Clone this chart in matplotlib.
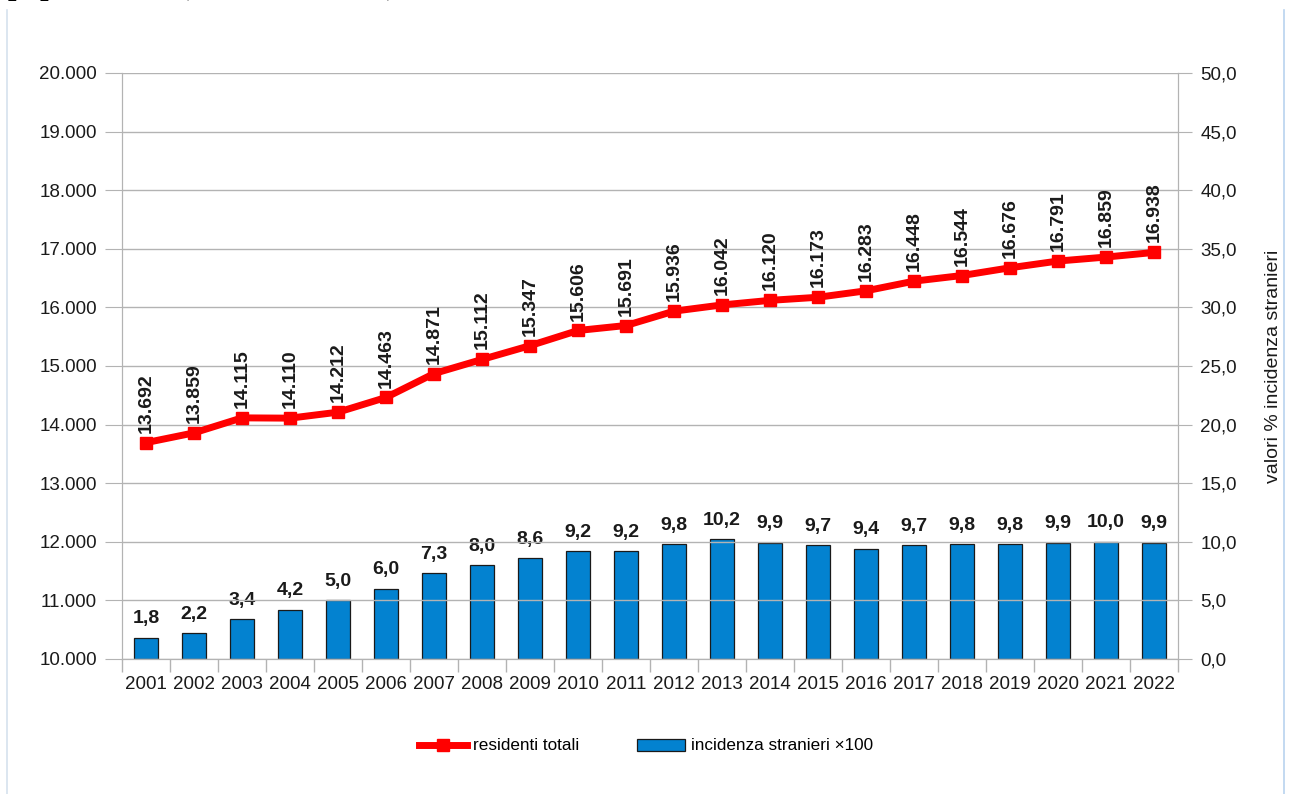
import matplotlib
matplotlib.use("Agg")
import matplotlib.pyplot as plt
from matplotlib.lines import Line2D
from matplotlib.patches import Patch
from matplotlib.ticker import FixedLocator

plt.rcParams['font.family'] = ['Liberation Sans', 'DejaVu Sans']

years = ['2001', '2002', '2003', '2004', '2005', '2006', '2007', '2008', '2009', '2010', '2011',
         '2012', '2013', '2014', '2015', '2016', '2017', '2018', '2019', '2020', '2021', '2022']
residenti = [13692, 13859, 14115, 14110, 14212, 14463, 14871, 15112, 15347, 15606, 15691,
             15936, 16042, 16120, 16173, 16283, 16448, 16544, 16676, 16791, 16859, 16938]
incidenza = [1.8, 2.2, 3.4, 4.2, 5.0, 6.0, 7.3, 8.0, 8.6, 9.2, 9.2,
             9.8, 10.2, 9.9, 9.7, 9.4, 9.7, 9.8, 9.8, 9.9, 10.0, 9.9]
left_ticks = list(range(10000, 20001, 1000))
right_ticks = [0, 5, 10, 15, 20, 25, 30, 35, 40, 45, 50]

W, H = 1293, 794
fig = plt.figure(figsize=(W / 100, H / 100), dpi=100)
x0, x1, y0, y1 = 122, 1178, 73, 659
ax = fig.add_axes([x0 / W, 1 - y1 / H, (x1 - x0) / W, (y1 - y0) / H])
ax2 = ax.twinx()

def it(v):
    return f"{v:,}".replace(",", ".")

xs = list(range(len(years)))
blue = '#0382d0'
red = '#ff0000'
grid_c = '#b3b3b3'

# bars on right axis
ax2.bar(xs, incidenza, width=0.52, color=blue, edgecolor='#1a1a1a', linewidth=0.9, zorder=2)
ax2.set_ylim(0, 50)
for x, v in zip(xs, incidenza):
    ax2.text(x, v + 0.9, f"{v:.1f}".replace(".", ","), ha='center', va='bottom',
             fontsize=14, fontweight='bold', color='#1a1a1a', zorder=5)

# grid on left axis
ax.set_ylim(10000, 20000)
ax.set_xlim(-0.5, len(years) - 0.5)
ax.yaxis.set_major_locator(FixedLocator(left_ticks))
ax.set_yticklabels([it(t) for t in left_ticks])
for t in left_ticks:
    ax.axhline(t, color=grid_c, lw=1.0, zorder=0)
ax.set_zorder(ax2.get_zorder() + 1)
ax.patch.set_visible(False)

ax.plot(xs, residenti, color=red, lw=5, marker='s', markersize=9, zorder=4, clip_on=False)
for x, v in zip(xs, residenti):
    ax.text(x, v + 170, it(v), rotation=90, ha='center', va='bottom',
            fontsize=14, fontweight='bold', color='#1a1a1a', zorder=6)

ax2.yaxis.set_major_locator(FixedLocator(right_ticks))
ax2.set_yticklabels([f"{t:.1f}".replace(".", ",") for t in right_ticks])

ax.set_xticks(xs)
ax.set_xticklabels(years)
ax.xaxis.set_minor_locator(FixedLocator([i - 0.5 for i in range(len(years) + 1)]))
ax.tick_params(axis='x', which='major', length=0, labelsize=13.5, pad=12, colors='#1a1a1a')
ax.tick_params(axis='x', which='minor', length=9, color=grid_c, width=1)
ax.tick_params(axis='y', length=12, color=grid_c, labelsize=13.5, labelcolor='#1a1a1a', pad=6)
ax2.tick_params(axis='y', length=10, color=grid_c, labelsize=13.5, labelcolor='#1a1a1a', pad=6)

for a in (ax, ax2):
    a.spines['top'].set_visible(False)
    a.spines['left'].set_color(grid_c)
    a.spines['right'].set_color(grid_c)
    a.spines['bottom'].set_color(grid_c)

ax2.set_ylabel('valori % incidenza stranieri', fontsize=14, color='#1a1a1a', labelpad=20)

# legend
handles = [Line2D([0], [0], color=red, lw=5, marker='s', markersize=9),
           Patch(facecolor=blue, edgecolor='#1a1a1a', linewidth=0.9)]
fig.legend(handles, ['residenti totali', 'incidenza stranieri ×100'], loc='center',
           bbox_to_anchor=(646 / W, 1 - 746 / H), ncol=2, frameon=False, fontsize=12.3,
           handlelength=2.8, columnspacing=3.4, handletextpad=0.35)

# cut-off title at top (only descenders visible, as in the reference)
fig.text(8 / W, 1 + 6 / H, 'popolazione  (anni 2001-2022)', fontsize=22,
         fontweight='bold', family='Liberation Serif', va='baseline', ha='left')

# frame lines
fig.add_artist(Line2D([7 / W, 7 / W], [0, 1 - 10 / H], color='#d6e2ee', lw=1.2))
fig.add_artist(Line2D([1284 / W, 1284 / W], [0, 1 - 10 / H], color='#b9d3ef', lw=1.2))

fig.savefig('out.png', dpi=100)
